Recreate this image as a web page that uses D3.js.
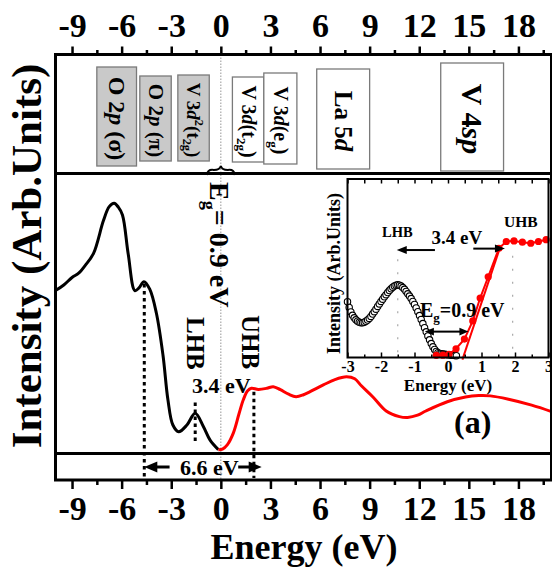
<!DOCTYPE html>
<html>
<head>
<meta charset="utf-8">
<script src="https://cdn.jsdelivr.net/npm/d3@7"></script>
<style>
  html, body { margin: 0; padding: 0; background: #fff; }
  svg { display: block; font-family: "Liberation Serif", "Times New Roman", serif; font-weight: bold; }
</style>
</head>
<body>
<svg id="chart" width="552" height="570"></svg>
<script>
// ---------- data ----------
const energyTicks = [-9, -6, -3, 0, 3, 6, 9, 12, 15, 18];

// occupied (valence) part of the spectrum
const vbEnergy = [-10.0, -9.5, -9.0, -8.6, -8.2, -7.7, -7.1, -6.75, -6.45, -6.2, -5.95, -5.6, -5.2, -4.95, -4.65, -4.3, -3.9, -3.5, -3.2, -2.9, -2.55, -2.05, -1.55, -1.05, -0.65, -0.15];
const vbIntensity = [0.58, 0.60, 0.627, 0.642, 0.67, 0.713, 0.83, 0.88, 0.892, 0.878, 0.85, 0.71, 0.58, 0.59, 0.612, 0.585, 0.50, 0.35, 0.19, 0.10, 0.076, 0.10, 0.142, 0.094, 0.046, 0.012];

// unoccupied (conduction) part of the spectrum
const cbEnergy = [-0.15, 0.1, 0.4, 0.76, 1.1, 1.36, 1.62, 1.85, 2.27, 2.78, 3.17, 3.6, 4.1, 4.55, 5.0, 5.4, 6.2, 6.9, 7.6, 8.1, 8.5, 9.2, 10.0, 10.8, 11.3, 11.9, 12.4, 13.7, 14.8, 15.6, 16.3, 17.4, 18.8, 20.0];
const cbIntensity = [0.012, 0.014, 0.03, 0.072, 0.14, 0.19, 0.222, 0.231, 0.227, 0.231, 0.237, 0.226, 0.21, 0.201, 0.208, 0.219, 0.243, 0.262, 0.272, 0.265, 0.24, 0.20, 0.15, 0.13, 0.127, 0.135, 0.15, 0.183, 0.20, 0.205, 0.204, 0.192, 0.171, 0.148];

// orbital character bands (energy ranges)
const bandLabels = [
  [["O 2", ""], ["p", "i"], [" (σ)", ""]],
  [["O 2", ""], ["p", "i"], [" (π)", ""]],
  [["V 3", ""], ["d", "i"], ["2", "sup"], ["(t", ""], ["2g", "sub"], [")", ""]],
  [["V 3", ""], ["d", "i"], ["(t", ""], ["2g", "sub"], [")", ""]],
  [["V 3", ""], ["d", "i"], ["(e", ""], ["g", "sub"], [")", ""]],
  [["La 5", ""], ["d", "i"]],
  [["V 4", ""], ["sp", "i"]]
];
const bandLow = [-7.5, -4.9, -2.6, 0.7, 2.6, 5.8, 13.3];
const bandHigh = [-5.1, -3.0, -0.7, 2.6, 4.6, 9.0, 17.1];
const bandOccupied = [true, true, true, false, false, false, false];

// feature positions (eV)
const featureO2p = -4.63;
const featureLHB = -1.55;
const featureUHB = 2.0;

// inset: near-gap region
const insetTicks = [-3, -2, -1, 0, 1, 2, 3];
const insetVbEnergy = [-3.00, -2.95, -2.90, -2.85, -2.80, -2.75, -2.70, -2.65, -2.60, -2.55, -2.50, -2.45, -2.40, -2.35, -2.30, -2.25, -2.20, -2.15, -2.10, -2.05, -2.00, -1.95, -1.90, -1.85, -1.80, -1.75, -1.70, -1.65, -1.60, -1.55, -1.50, -1.45, -1.40, -1.35, -1.30, -1.25, -1.20, -1.15, -1.10, -1.05, -1.00, -0.95, -0.90, -0.85, -0.80, -0.75, -0.70, -0.65, -0.60, -0.55, -0.50, -0.45, -0.40, -0.35, -0.30, -0.25, -0.20, -0.15, -0.10, -0.05, 0.00, 0.05, 0.10, 0.15, 0.20, 0.25];
const insetVbIntensity = [0.313, 0.280, 0.255, 0.236, 0.222, 0.211, 0.203, 0.198, 0.195, 0.195, 0.198, 0.203, 0.210, 0.219, 0.230, 0.243, 0.257, 0.271, 0.286, 0.300, 0.314, 0.327, 0.340, 0.352, 0.364, 0.375, 0.385, 0.394, 0.401, 0.405, 0.407, 0.405, 0.400, 0.392, 0.382, 0.370, 0.357, 0.344, 0.330, 0.314, 0.297, 0.278, 0.257, 0.235, 0.213, 0.190, 0.167, 0.144, 0.121, 0.099, 0.078, 0.060, 0.045, 0.034, 0.027, 0.023, 0.021, 0.019, 0.018, 0.017, 0.016, 0.015, 0.013, 0.012, 0.011, 0.010];
const insetCbEnergy = [-0.35, -0.15, 0.03, 0.24, 0.49, 0.74, 0.96, 1.2, 1.52, 1.74, 1.97, 2.22, 2.47, 2.7, 2.93];
const insetCbIntensity = [0.012, 0.013, 0.018, 0.049, 0.103, 0.205, 0.333, 0.452, 0.612, 0.65, 0.653, 0.646, 0.64, 0.65, 0.66];
const insetFitEnergy = [0.43, 1.56];
const insetFitIntensity = [-0.012, 0.62];
const insetMarkEnergy = [-1.5, 1.93];

// ---------- layout ----------
const svg = d3.select("#chart");
const left = 55.5, right = 551.5;
const topY = 54.5, sepTop = 173.5, sepBottom = 453.5, bottomY = 480;

const x = d3.scaleLinear().domain([-10, 20]).range([left, right]);
const y = d3.scaleLinear().domain([0, 1]).range([453, 173]);

const zip = (a, b) => a.map((v, i) => [v, b[i]]);
const valueAt = (e, es, is) => {
  const i = d3.bisectLeft(es, e);
  if (i <= 0) return is[0];
  if (i >= es.length) return is[is.length - 1];
  const t = (e - es[i - 1]) / (es[i] - es[i - 1]);
  return is[i - 1] + t * (is[i] - is[i - 1]);
};

function richText(sel, segs, fs) {
  let off = 0;
  segs.forEach(([t, s]) => {
    const ts = sel.append("tspan").text(t);
    let target = 0;
    if (s === "i") ts.attr("font-style", "italic");
    if (s === "sup") { ts.attr("font-size", fs * 0.65); target = -fs * 0.42; }
    if (s === "sub") { ts.attr("font-size", fs * 0.65); target = fs * 0.25; }
    if (target - off !== 0) ts.attr("dy", target - off);
    off = target;
  });
}

function hArrow(g, x1, x2, yy, headLen, headHalf, sw, both) {
  const dir = Math.sign(x2 - x1);
  const a = both ? x1 + dir * headLen * 0.9 : x1;
  g.append("line").attr("x1", a).attr("x2", x2 - dir * headLen * 0.9)
    .attr("y1", yy).attr("y2", yy).attr("stroke", "#000").attr("stroke-width", sw);
  const head = (tip, d) => g.append("path")
    .attr("d", `M${tip},${yy}L${tip - d * headLen},${yy - headHalf}L${tip - d * headLen},${yy + headHalf}Z`)
    .attr("fill", "#000");
  head(x2, dir);
  if (both) head(x1, -dir);
}

// zero-energy reference line
svg.append("line")
  .attr("x1", x(0)).attr("x2", x(0)).attr("y1", topY).attr("y2", bottomY)
  .attr("stroke", "#8a8a8a").attr("stroke-width", 0.9).attr("stroke-dasharray", "1.5,1.5");

// ---------- top panel: orbital bands ----------
const bandBoxY = [[67, 166], [76, 161], [75, 161], [77, 162], [73, 164], [69, 169], [63, 171]];
const bandFont = [24, 21, 19, 20, 20, 25, 30];
const bands = svg.append("g");
bandLabels.forEach((segs, i) => {
  const x0 = x(bandLow[i]), x1 = x(bandHigh[i]);
  const [t0, t1] = bandBoxY[i];
  bands.append("rect")
    .attr("x", x0).attr("y", t0).attr("width", x1 - x0).attr("height", t1 - t0)
    .attr("fill", bandOccupied[i] ? "#c9c9c9" : "#fff")
    .attr("stroke", "#7a7a7a").attr("stroke-width", 1.3);
  const fs = bandFont[i];
  const t = bands.append("text")
    .attr("transform", `translate(${(x0 + x1) / 2},${(t0 + t1) / 2 + 2}) rotate(90)`)
    .attr("text-anchor", "middle")
    .attr("y", fs * 0.33)
    .attr("font-size", fs);
  richText(t, segs, fs);
});

// ---------- spectrum ----------
const line = d3.line().x(d => x(d[0])).y(d => y(d[1])).curve(d3.curveCatmullRom.alpha(0.5));
svg.append("path").attr("d", line(zip(vbEnergy, vbIntensity)))
  .attr("fill", "none").attr("stroke", "#000").attr("stroke-width", 3);
svg.append("path").attr("d", line(zip(cbEnergy, cbIntensity)))
  .attr("fill", "none").attr("stroke", "#ff0000").attr("stroke-width", 3);

// feature markers
const dotted = (e, y1, y2) => svg.append("line")
  .attr("x1", x(e)).attr("x2", x(e)).attr("y1", y1).attr("y2", y2)
  .attr("stroke", "#000").attr("stroke-width", 3).attr("stroke-dasharray", "3.5,3.5");
dotted(featureO2p, y(valueAt(featureO2p, vbEnergy, vbIntensity)) + 2, bottomY - 2);
dotted(featureUHB, y(valueAt(featureUHB, cbEnergy, cbIntensity)) + 3, bottomY - 2);
dotted(featureLHB, y(0.18), y(0.04));

// annotations in main panel
svg.append("text").attr("transform", `translate(210,182) rotate(90)`).attr("font-size", 28)
  .call(t => richText(t, [["E", ""], ["g", "sub"], ["= 0.9 eV", ""]], 28));
svg.append("text").attr("transform", `translate(187,317) rotate(90)`).attr("font-size", 25).text("LHB");
svg.append("text").attr("transform", `translate(242,315) rotate(90)`).attr("font-size", 25).text("UHB");
svg.append("text").attr("x", 192).attr("y", 393).attr("font-size", 22).text("3.4 eV");
svg.append("text").attr("x", 454).attr("y", 433).attr("font-size", 32).text("(a)");

// small brace at the gap
svg.append("path")
  .attr("d", `M${x(0) - 14},175 Q${x(0) - 13},169 ${x(0) - 7},170 Q${x(0) - 1},170 ${x(0)},166 Q${x(0) + 1},170 ${x(0) + 7},170 Q${x(0) + 13},169 ${x(0) + 14},175`)
  .attr("fill", "none").attr("stroke", "#000").attr("stroke-width", 2);

// 6.6 eV span arrows in the lower strip
const strip = svg.append("g");
hArrow(strip, x(-3.1), x(featureO2p), 467, 13, 5.5, 3, false);
hArrow(strip, x(1.05), x(2.47), 467, 13, 5.5, 3, false);
strip.append("text").attr("x", 180).attr("y", 475).attr("font-size", 22).text("6.6 eV");

// ---------- frame & axes ----------
const frame = svg.append("g").attr("fill", "none").attr("stroke", "#000").attr("stroke-width", 3);
frame.append("rect").attr("x", left).attr("y", topY).attr("width", right - left).attr("height", bottomY - topY);
frame.append("line").attr("x1", left).attr("x2", right).attr("y1", sepTop).attr("y2", sepTop);
frame.append("line").attr("x1", left).attr("x2", right).attr("y1", sepBottom).attr("y2", sepBottom);

const minorTicks = d3.range(-7.5, 20, 3);
function styleAxis(g, labelY) {
  g.select(".domain").remove();
  g.selectAll(".tick line").attr("stroke", "#000").attr("stroke-width", 2.5);
  g.selectAll(".tick text").attr("font-size", 34).attr("font-family", "Liberation Serif, serif")
    .attr("font-weight", "bold").attr("fill", "#000").attr("y", labelY).attr("dy", 0);
}
const fmt = d => String(d);
svg.append("g").attr("transform", `translate(0,${topY})`)
  .call(d3.axisTop(x).tickValues(energyTicks).tickSize(8).tickFormat(fmt))
  .call(g => styleAxis(g, 37 - topY));
svg.append("g").attr("transform", `translate(0,${topY})`)
  .call(d3.axisTop(x).tickValues(minorTicks).tickSize(4.5).tickFormat(""))
  .call(g => styleAxis(g, 0));
svg.append("g").attr("transform", `translate(0,${bottomY})`)
  .call(d3.axisBottom(x).tickValues(energyTicks).tickSize(9).tickFormat(fmt))
  .call(g => styleAxis(g, 519.5 - bottomY));
svg.append("g").attr("transform", `translate(0,${bottomY})`)
  .call(d3.axisBottom(x).tickValues(minorTicks).tickSize(5).tickFormat(""))
  .call(g => styleAxis(g, 0));

svg.append("text").attr("x", 304).attr("y", 559).attr("text-anchor", "middle")
  .attr("font-size", 36).text("Energy (eV)");
svg.append("text").attr("transform", "translate(41,256) rotate(-90)").attr("text-anchor", "middle")
  .attr("font-size", 43).text("Intensity (Arb.Units)");

// ---------- inset ----------
const xi = d3.scaleLinear().domain([-3, 3]).range([347.5, 548.5]);
const yi = d3.scaleLinear().domain([0, 1]).range([357.5, 179]);
const inset = svg.append("g");
inset.append("rect").attr("x", 347.5).attr("y", 179).attr("width", 201).attr("height", 178.5)
  .attr("fill", "#fff");

// guide marks at LHB / UHB
insetMarkEnergy.forEach((e, i) => {
  inset.append("line").attr("x1", xi(e)).attr("x2", xi(e))
    .attr("y1", yi(i === 0 ? 0.55 : 0.57)).attr("y2", yi(0.02))
    .attr("stroke", "#a8a8a8").attr("stroke-width", 1.2).attr("stroke-dasharray", "2,11");
});

// valence band (open circles)
inset.append("g").selectAll("circle").data(zip(insetVbEnergy, insetVbIntensity)).join("circle")
  .attr("cx", d => xi(d[0])).attr("cy", d => yi(d[1])).attr("r", 3.2)
  .attr("fill", "#fff").attr("stroke", "#000").attr("stroke-width", 1.1);

// conduction band (red points, line, linear fit)
inset.append("path").attr("d", d3.line().x(d => xi(d[0])).y(d => yi(d[1]))(zip(insetFitEnergy, insetFitIntensity)))
  .attr("stroke", "#ff0000").attr("stroke-width", 2).attr("fill", "none");
inset.append("path").attr("d", d3.line().x(d => xi(d[0])).y(d => yi(d[1]))(zip(insetCbEnergy, insetCbIntensity)))
  .attr("stroke", "#ff0000").attr("stroke-width", 2).attr("fill", "none");
inset.append("g").selectAll("circle").data(zip(insetCbEnergy, insetCbIntensity)).join("circle")
  .attr("cx", d => xi(d[0])).attr("cy", d => yi(d[1])).attr("r", 3.6).attr("fill", "#ff0000");

// inset annotations
hArrow(inset, xi(-0.39), xi(-1.53), yi(0.602), 10, 4, 2, false);
hArrow(inset, xi(0.755), xi(1.70), yi(0.61), 10, 4, 2, false);
hArrow(inset, xi(-0.69), xi(0.61), yi(0.145), 9, 3.8, 2, true);
inset.append("text").attr("x", 382).attr("y", 236.7).attr("font-size", 14.5).text("LHB");
inset.append("text").attr("x", 504).attr("y", 226.7).attr("font-size", 15.5).text("UHB");
inset.append("text").attr("x", 431.5).attr("y", 244).attr("font-size", 19).text("3.4 eV");
inset.append("text").attr("x", 420).attr("y", 317).attr("font-size", 20)
  .call(t => richText(t, [["E", ""], ["g", "sub"], ["=0.9 eV", ""]], 20));

// inset frame and ticks
inset.append("rect").attr("x", 347.5).attr("y", 179).attr("width", 201).attr("height", 178.5)
  .attr("fill", "none").attr("stroke", "#000").attr("stroke-width", 2);
const insetMinor = d3.range(-2.5, 3, 1);
inset.append("g").attr("transform", "translate(0,179)")
  .call(d3.axisBottom(xi).tickValues(d3.range(-3, 3.01, 0.5)).tickSize(4.5).tickFormat(""))
  .call(g => { g.select(".domain").remove(); g.selectAll(".tick line").attr("stroke-width", 1.5); });
inset.append("g").attr("transform", "translate(0,357.5)")
  .call(d3.axisTop(xi).tickValues(insetMinor).tickSize(3).tickFormat(""))
  .call(g => { g.select(".domain").remove(); g.selectAll(".tick line").attr("stroke-width", 1.5); });
inset.append("g").attr("transform", "translate(0,357.5)")
  .call(d3.axisTop(xi).tickValues(insetTicks).tickSize(5).tickFormat(fmt))
  .call(g => {
    g.select(".domain").remove();
    g.selectAll(".tick line").attr("stroke-width", 1.5);
    g.selectAll(".tick text").attr("font-size", 16).attr("font-family", "Liberation Serif, serif")
      .attr("font-weight", "bold").attr("fill", "#000").attr("y", 14).attr("dy", 0);
  });
inset.append("text").attr("x", 448).attr("y", 391).attr("text-anchor", "middle")
  .attr("font-size", 17).text("Energy (eV)");
inset.append("text").attr("transform", "translate(340,273.5) rotate(-90)").attr("text-anchor", "middle")
  .attr("font-size", 18).text("Intensity (Arb.Units)");
</script>
</body>
</html>
